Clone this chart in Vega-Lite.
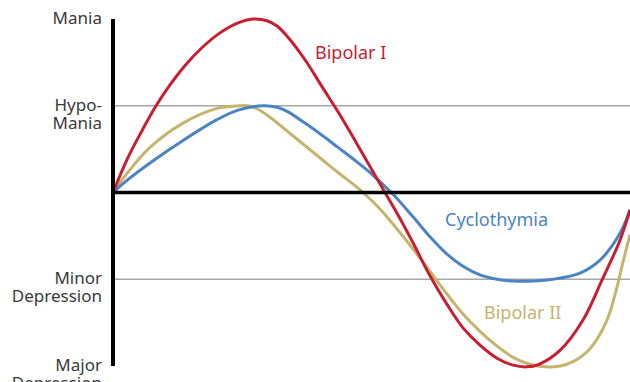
{
  "$schema": "https://vega.github.io/schema/vega-lite/v6.json",
  "width": 517,
  "height": 347,
  "autosize": {"type": "none"},
  "padding": {"left": 113, "top": 19, "right": 0, "bottom": 16},
  "background": "white",
  "config": {"view": {"stroke": null}, "text": {"font": "Noto Sans"}},
  "datasets": {
    "curves": [
      {"series": "Bipolar II", "t": 0, "v": 0},
      {"series": "Bipolar II", "t": 14, "v": 0.22},
      {"series": "Bipolar II", "t": 37, "v": 0.52},
      {"series": "Bipolar II", "t": 70, "v": 0.8},
      {"series": "Bipolar II", "t": 104, "v": 0.97},
      {"series": "Bipolar II", "t": 120, "v": 0.995},
      {"series": "Bipolar II", "t": 135, "v": 1.0},
      {"series": "Bipolar II", "t": 145, "v": 0.96},
      {"series": "Bipolar II", "t": 159, "v": 0.85},
      {"series": "Bipolar II", "t": 175, "v": 0.7},
      {"series": "Bipolar II", "t": 192, "v": 0.54},
      {"series": "Bipolar II", "t": 209, "v": 0.38},
      {"series": "Bipolar II", "t": 225, "v": 0.23},
      {"series": "Bipolar II", "t": 242, "v": 0.08},
      {"series": "Bipolar II", "t": 252, "v": -0.02},
      {"series": "Bipolar II", "t": 267, "v": -0.19},
      {"series": "Bipolar II", "t": 284, "v": -0.42},
      {"series": "Bipolar II", "t": 300, "v": -0.65},
      {"series": "Bipolar II", "t": 317, "v": -0.91},
      {"series": "Bipolar II", "t": 334, "v": -1.17},
      {"series": "Bipolar II", "t": 350, "v": -1.4},
      {"series": "Bipolar II", "t": 367, "v": -1.6},
      {"series": "Bipolar II", "t": 384, "v": -1.77},
      {"series": "Bipolar II", "t": 400, "v": -1.9},
      {"series": "Bipolar II", "t": 417, "v": -1.98},
      {"series": "Bipolar II", "t": 432, "v": -2.01},
      {"series": "Bipolar II", "t": 447, "v": -2.0},
      {"series": "Bipolar II", "t": 460, "v": -1.95},
      {"series": "Bipolar II", "t": 477, "v": -1.8},
      {"series": "Bipolar II", "t": 494, "v": -1.47},
      {"series": "Bipolar II", "t": 504, "v": -1.09},
      {"series": "Bipolar II", "t": 510, "v": -0.8},
      {"series": "Bipolar II", "t": 517, "v": -0.49},
      {"series": "Cyclothymia", "t": 0, "v": 0},
      {"series": "Cyclothymia", "t": 14, "v": 0.14},
      {"series": "Cyclothymia", "t": 37, "v": 0.34},
      {"series": "Cyclothymia", "t": 70, "v": 0.6},
      {"series": "Cyclothymia", "t": 104, "v": 0.84},
      {"series": "Cyclothymia", "t": 125, "v": 0.95},
      {"series": "Cyclothymia", "t": 150, "v": 1.0},
      {"series": "Cyclothymia", "t": 165, "v": 0.98},
      {"series": "Cyclothymia", "t": 175, "v": 0.93},
      {"series": "Cyclothymia", "t": 192, "v": 0.8},
      {"series": "Cyclothymia", "t": 209, "v": 0.66},
      {"series": "Cyclothymia", "t": 225, "v": 0.52},
      {"series": "Cyclothymia", "t": 242, "v": 0.37},
      {"series": "Cyclothymia", "t": 259, "v": 0.21},
      {"series": "Cyclothymia", "t": 280, "v": -0.02},
      {"series": "Cyclothymia", "t": 300, "v": -0.28},
      {"series": "Cyclothymia", "t": 317, "v": -0.51},
      {"series": "Cyclothymia", "t": 334, "v": -0.71},
      {"series": "Cyclothymia", "t": 350, "v": -0.85},
      {"series": "Cyclothymia", "t": 367, "v": -0.95},
      {"series": "Cyclothymia", "t": 384, "v": -1.0},
      {"series": "Cyclothymia", "t": 400, "v": -1.02},
      {"series": "Cyclothymia", "t": 420, "v": -1.02},
      {"series": "Cyclothymia", "t": 440, "v": -1.0},
      {"series": "Cyclothymia", "t": 467, "v": -0.93},
      {"series": "Cyclothymia", "t": 487, "v": -0.78},
      {"series": "Cyclothymia", "t": 507, "v": -0.47},
      {"series": "Cyclothymia", "t": 517, "v": -0.2},
      {"series": "Bipolar I", "t": 0, "v": 0},
      {"series": "Bipolar I", "t": 14, "v": 0.38},
      {"series": "Bipolar I", "t": 27, "v": 0.67},
      {"series": "Bipolar I", "t": 42, "v": 0.98},
      {"series": "Bipolar I", "t": 57, "v": 1.24},
      {"series": "Bipolar I", "t": 74, "v": 1.49},
      {"series": "Bipolar I", "t": 90, "v": 1.68},
      {"series": "Bipolar I", "t": 107, "v": 1.84},
      {"series": "Bipolar I", "t": 124, "v": 1.95},
      {"series": "Bipolar I", "t": 140, "v": 2.0},
      {"series": "Bipolar I", "t": 154, "v": 1.98},
      {"series": "Bipolar I", "t": 164, "v": 1.92},
      {"series": "Bipolar I", "t": 175, "v": 1.79},
      {"series": "Bipolar I", "t": 192, "v": 1.53},
      {"series": "Bipolar I", "t": 209, "v": 1.22},
      {"series": "Bipolar I", "t": 225, "v": 0.93},
      {"series": "Bipolar I", "t": 242, "v": 0.6},
      {"series": "Bipolar I", "t": 259, "v": 0.26},
      {"series": "Bipolar I", "t": 272, "v": 0.0},
      {"series": "Bipolar I", "t": 287, "v": -0.3},
      {"series": "Bipolar I", "t": 300, "v": -0.58},
      {"series": "Bipolar I", "t": 317, "v": -0.96},
      {"series": "Bipolar I", "t": 334, "v": -1.29},
      {"series": "Bipolar I", "t": 350, "v": -1.56},
      {"series": "Bipolar I", "t": 367, "v": -1.76},
      {"series": "Bipolar I", "t": 384, "v": -1.91},
      {"series": "Bipolar I", "t": 400, "v": -1.99},
      {"series": "Bipolar I", "t": 414, "v": -2.01},
      {"series": "Bipolar I", "t": 426, "v": -1.98},
      {"series": "Bipolar I", "t": 447, "v": -1.82},
      {"series": "Bipolar I", "t": 470, "v": -1.47},
      {"series": "Bipolar I", "t": 489, "v": -1.01},
      {"series": "Bipolar I", "t": 507, "v": -0.55},
      {"series": "Bipolar I", "t": 517, "v": -0.2}
    ],
    "curveLabels": [
      {"series": "Bipolar I", "t": 202, "v": 1.6},
      {"series": "Cyclothymia", "t": 332, "v": -0.33},
      {"series": "Bipolar II", "t": 371, "v": -1.4}
    ],
    "levels": [
      {"label": "Mania", "v": 2.0},
      {"label": "Hypo-\nMania", "v": 1.0},
      {"label": "Minor\nDepression", "v": -1.0},
      {"label": "Major\nDepression", "v": -2.0}
    ]
  },
  "layer": [
    {
      "data": {"values": [{"v": 1}, {"v": -1}]},
      "mark": {"type": "rule", "color": "#a6a6a6", "strokeWidth": 1.5},
      "encoding": {"y": {"field": "v", "type": "quantitative", "scale": {"domain": [-2, 2], "nice": false}, "axis": null}}
    },
    {
      "data": {"name": "curves"},
      "mark": {"type": "line", "strokeWidth": 3, "interpolate": "catmull-rom"},
      "encoding": {
        "x": {"field": "t", "type": "quantitative", "scale": {"domain": [0, 517], "nice": false, "zero": false}, "axis": null},
        "y": {"field": "v", "type": "quantitative", "axis": null},
        "color": {"field": "series", "type": "nominal", "scale": {"domain": ["Bipolar II", "Cyclothymia", "Bipolar I"], "range": ["#c5b46c", "#4b83c3", "#c81e32"]}, "legend": null},
        "order": {"field": "t", "type": "quantitative"}
      }
    },
    {
      "data": {"values": [{"v": 0}]},
      "mark": {"type": "rule", "color": "#000000", "strokeWidth": 3.5},
      "encoding": {"y": {"field": "v", "type": "quantitative"}}
    },
    {
      "data": {"values": [{"t": 0}]},
      "mark": {"type": "rule", "color": "#000000", "strokeWidth": 4},
      "encoding": {"x": {"field": "t", "type": "quantitative"}}
    },
    {
      "data": {"name": "curveLabels"},
      "mark": {"type": "text", "align": "left", "baseline": "middle", "fontSize": 18},
      "encoding": {
        "x": {"field": "t", "type": "quantitative"},
        "y": {"field": "v", "type": "quantitative"},
        "text": {"field": "series"},
        "color": {"field": "series", "type": "nominal", "legend": null}
      }
    },
    {
      "data": {"name": "levels"},
      "mark": {"type": "text", "align": "right", "baseline": "middle", "fontSize": 17, "lineBreak": "\n", "lineHeight": 18, "color": "#3a3a3a", "dx": -11},
      "encoding": {
        "x": {"datum": 0, "type": "quantitative"},
        "y": {"field": "v", "type": "quantitative"},
        "text": {"field": "label"}
      }
    }
  ]
}
